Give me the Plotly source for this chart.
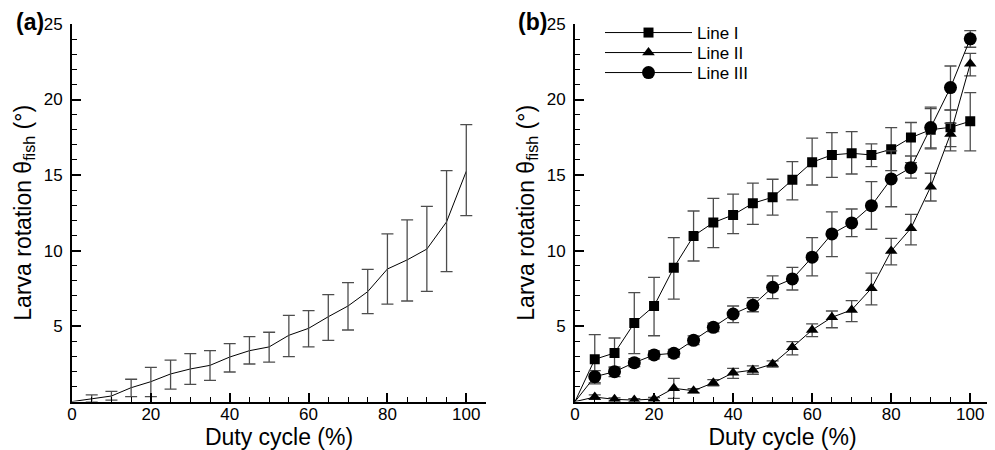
import plotly.graph_objects as go

# ---------------- data ----------------
duty = [5, 10, 15, 20, 25, 30, 35, 40, 45, 50, 55, 60, 65, 70, 75, 80, 85, 90, 95, 100]

# panel (a): mean rotation, upper and lower error bar ends
a_mean = [0.17, 0.37, 0.92, 1.32, 1.83, 2.16, 2.40, 2.95, 3.37, 3.62, 4.39, 4.85, 5.62, 6.33, 7.28, 8.78, 9.38, 10.1, 11.9, 15.25]
a_up   = [0.44, 0.68, 1.48, 2.27, 2.75, 3.17, 3.37, 3.84, 4.30, 4.59, 5.71, 6.02, 7.08, 7.88, 8.76, 11.10, 12.03, 12.93, 15.29, 18.34]
a_low  = [0.00, 0.10, 0.33, 0.33, 0.83, 1.14, 1.41, 1.96, 2.49, 2.62, 2.98, 3.62, 4.06, 4.74, 5.82, 6.46, 6.66, 7.30, 8.60, 12.31]

# panel (b)
l1_mean = [2.80, 3.22, 5.20, 6.33, 8.87, 10.97, 11.85, 12.36, 13.13, 13.53, 14.68, 15.85, 16.33, 16.44, 16.33, 16.71, 17.48, 18.00, 18.16, 18.56]
l1_up   = [4.43, 4.21, 7.21, 8.23, 10.86, 12.62, 13.46, 13.73, 14.46, 14.72, 15.89, 17.44, 17.81, 17.88, 17.06, 18.14, 18.48, 19.40, 19.30, 20.46]
l1_low  = [1.17, 2.23, 3.17, 4.36, 6.79, 9.31, 10.20, 11.12, 11.74, 12.34, 13.35, 14.34, 14.85, 15.07, 15.56, 15.29, 15.82, 16.80, 16.60, 16.60]

l2_mean = [0.30, 0.15, 0.10, 0.17, 0.88, 0.72, 1.25, 1.91, 2.09, 2.49, 3.60, 4.74, 5.58, 6.07, 7.50, 9.97, 11.48, 14.23, 17.72, 22.36]
l2_up   = [0.45, 0.25, 0.20, 0.27, 1.54, 0.85, 1.45, 2.20, 2.36, 2.70, 3.97, 5.14, 6.00, 6.68, 8.50, 10.81, 12.40, 15.12, 18.43, 23.06]
l2_low  = [0.15, 0.05, 0.00, 0.07, 0.22, 0.59, 1.05, 1.54, 1.81, 2.28, 3.09, 4.30, 4.89, 5.30, 6.40, 9.05, 10.37, 13.28, 16.88, 21.57]

l3_mean = [1.65, 1.98, 2.58, 3.09, 3.20, 4.06, 4.92, 5.80, 6.38, 7.57, 8.12, 9.56, 11.10, 11.83, 12.97, 14.74, 15.49, 18.14, 20.79, 24.02]
l3_up   = [2.05, 2.30, 2.85, 3.35, 3.45, 4.35, 5.20, 6.33, 6.88, 8.32, 8.89, 10.86, 12.56, 12.75, 14.56, 16.60, 16.26, 19.49, 22.22, 24.56]
l3_low  = [1.25, 1.66, 2.31, 2.83, 2.95, 3.77, 4.64, 5.23, 5.95, 6.82, 7.39, 8.32, 9.60, 10.92, 11.41, 12.90, 14.79, 16.73, 19.31, 23.46]

series_names = ["Line I", "Line II", "Line III"]
series_symbols = ["square", "triangle-up", "circle"]
series_sizes = [10, 11, 13]
legend_ids = ["legend", "legend2", "legend3"]

x_ticks = [0, 20, 40, 60, 80, 100]
y_ticks = [5, 10, 15, 20, 25]

FONT = "Liberation Sans, Arial, Helvetica, sans-serif"
ERR_COLOR = "#4d4d4d"

def errs(mean, up, low):
    return ([u - m for u, m in zip(up, mean)], [m - l for m, l in zip(mean, low)])

fig = go.Figure()

# ---- panel (a) ----
fig.add_trace(go.Scatter(x=[0] + duty, y=[0] + a_mean, mode="lines",
                         line=dict(color="black", width=1), showlegend=False,
                         xaxis="x", yaxis="y"))
ep, em = errs(a_mean, a_up, a_low)
fig.add_trace(go.Scatter(x=duty, y=a_mean, mode="markers", marker=dict(size=1, opacity=0),
                         error_y=dict(type="data", array=ep, arrayminus=em, color=ERR_COLOR,
                                      thickness=1.3, width=6),
                         showlegend=False, xaxis="x", yaxis="y"))

# ---- panel (b) ----
b_data = [(l1_mean, l1_up, l1_low), (l2_mean, l2_up, l2_low), (l3_mean, l3_up, l3_low)]
for (m, u, l), name, sym, sz, lg in zip(b_data, series_names, series_symbols, series_sizes, legend_ids):
    fig.add_trace(go.Scatter(x=[0, duty[0]], y=[0, m[0]], mode="lines",
                             line=dict(color="black", width=1), showlegend=False,
                             xaxis="x2", yaxis="y2"))
    ep, em = errs(m, u, l)
    fig.add_trace(go.Scatter(x=duty, y=m, mode="lines+markers", name=name, legend=lg,
                             line=dict(color="black", width=1),
                             marker=dict(symbol=sym, size=sz, color="black"),
                             error_y=dict(type="data", array=ep, arrayminus=em, color=ERR_COLOR,
                                          thickness=1.3, width=6),
                             xaxis="x2", yaxis="y2"))

# The page body has an 8 px margin: the figure is made 8 px smaller and every
# target screen position is offset by 8 px.
OFF = 8
W, H = 995 - OFF, 450 - OFF
def px(x):
    return (x - OFF) / W
def py(y):
    return 1 - (y - OFF) / H

xd_a = [px(72), px(486)]
xd_b = [px(575), px(990)]
yd = [py(401.6), py(24)]

def xaxis(domain, anchor):
    return dict(domain=domain, anchor=anchor, range=[0, 105], tickvals=x_ticks,
                automargin=False, ticklabelstandoff=-4,
                ticks="inside", ticklen=9, tickwidth=2, tickcolor="black",
                showline=True, linecolor="black", linewidth=2, mirror=False,
                showgrid=False, zeroline=False,
                minor=dict(tickmode="linear", tick0=0, dtick=5, ticks="inside",
                           ticklen=5, tickwidth=1, tickcolor="black", showgrid=False),
                tickfont=dict(family=FONT, size=17, color="black"),
                title=dict(text="Duty cycle (%)", font=dict(family=FONT, size=23, color="black"),
                           standoff=2))

def yaxis(domain, anchor):
    return dict(domain=domain, anchor=anchor, range=[0, 25], tickvals=y_ticks,
                automargin=False,
                ticks="inside", ticklen=9, tickwidth=2, tickcolor="black",
                showline=True, linecolor="black", linewidth=2, mirror=False,
                showgrid=False, zeroline=False, ticklabelstandoff=4,
                minor=dict(tickmode="linear", tick0=0, dtick=1, ticks="inside",
                           ticklen=5, tickwidth=1, tickcolor="black", showgrid=False),
                tickfont=dict(family=FONT, size=17, color="black"),
                title=dict(text="Larva rotation θ<sub>fish</sub> (°)",
                           font=dict(family=FONT, size=23, color="black"), standoff=6))

def legend_at(y):
    return dict(x=px(600), y=py(y), xanchor="left", yanchor="middle",
                bgcolor="rgba(0,0,0,0)", borderwidth=0, itemwidth=87,
                font=dict(family=FONT, size=17, color="black"))

fig.update_layout(
    template="none",
    width=W, height=H,
    margin=dict(l=0, r=0, t=0, b=0, pad=0, autoexpand=False),
    paper_bgcolor="white", plot_bgcolor="white",
    font=dict(family=FONT, color="black"),
    xaxis=xaxis(xd_a, "y"), yaxis=yaxis(yd, "x"),
    xaxis2=xaxis(xd_b, "y2"), yaxis2=yaxis(yd, "x2"),
    legend=legend_at(33), legend2=legend_at(53), legend3=legend_at(73),
    annotations=[
        dict(text="<b>(a)</b>", x=px(30), y=py(22), xref="paper", yref="paper",
             xanchor="center", yanchor="middle",
             showarrow=False, font=dict(family=FONT, size=23, color="black")),
        dict(text="<b>(b)</b>", x=px(532), y=py(22), xref="paper", yref="paper",
             xanchor="center", yanchor="middle",
             showarrow=False, font=dict(family=FONT, size=23, color="black")),
    ],
)

fig.write_html("out.html")
